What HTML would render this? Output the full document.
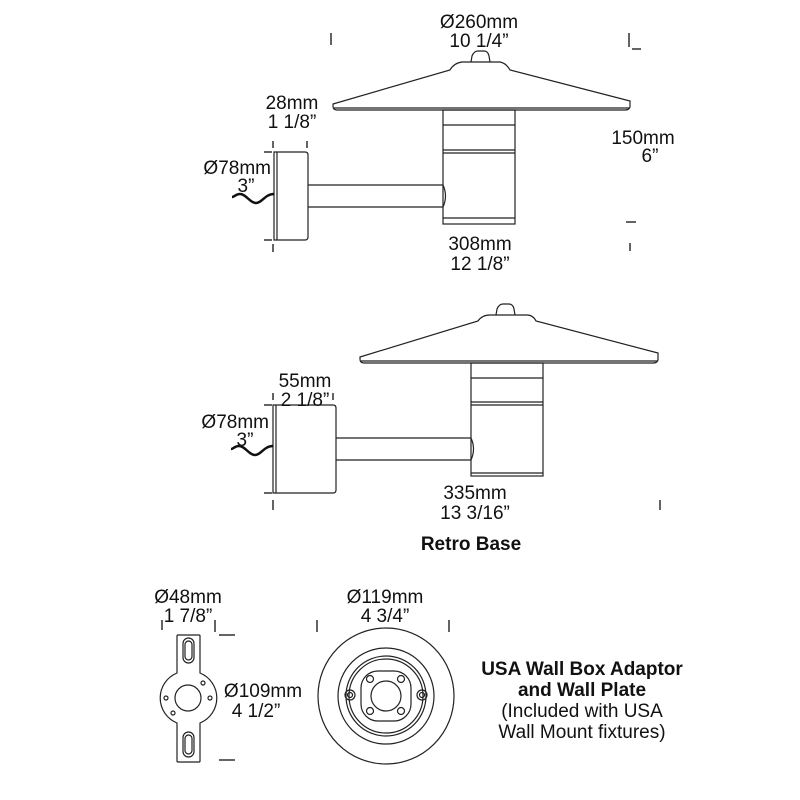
<!DOCTYPE html>
<html><head><meta charset="utf-8"><style>
html,body{margin:0;padding:0;background:#fff;}
svg{display:block}
text{font-family:"Liberation Sans",sans-serif;font-size:19px;fill:#111;text-anchor:middle}
.b{font-weight:bold}
.l{fill:none;stroke:#222;stroke-width:1.2}
.t{fill:none;stroke:#111;stroke-width:1.3}
</style></head><body>
<svg width="800" height="800" viewBox="0 0 800 800">
<!-- Fixture 1 -->
<path class="l" d="M333,104 L450,70 Q454,63 462,62 L500,62 Q506,63 510,70 L630,101 L630,107 Q629,110 625,110 L337,110 Q333,110 333,106 Z"/>
<line class="l" x1="334" y1="108" x2="629" y2="108"/>
<path class="l" d="M471,62 L472,56 Q474,51 478,51 L484,51 Q488,51 489,56 L490,62"/>
<rect class="l" x="443" y="110" width="72" height="114"/>
<line class="l" x1="443" y1="125" x2="515" y2="125"/>
<line class="l" x1="443" y1="150" x2="515" y2="150"/>
<line class="l" x1="443" y1="153" x2="515" y2="153"/>
<line class="l" x1="443" y1="218" x2="515" y2="218"/>
<path class="l" d="M274,152 L305,152 Q308,152 308,155 L308,237 Q308,240 305,240 L274,240 Z"/>
<line class="l" x1="277" y1="152" x2="277" y2="240"/>
<path class="l" d="M308,185 L443,185 Q448,196 443,207 L308,207"/>
<path d="M274,194 C265,194 262,203 256,203 C250,203 246,194 240,194 C236,194 234,197 232,197" fill="none" stroke="#111" stroke-width="2.5"/>
<text x="479" y="28">Ø260mm</text><text x="479" y="47">10 1/4”</text>
<line class="t" x1="331" y1="33" x2="331" y2="45"/>
<line class="t" x1="629" y1="33" x2="629" y2="47"/><line class="t" x1="632" y1="49" x2="641" y2="49"/>
<text x="292" y="109">28mm</text><text x="292" y="128">1 1/8”</text>
<line class="t" x1="273" y1="141" x2="273" y2="148"/><line class="t" x1="307" y1="141" x2="307" y2="148"/>
<text x="271" y="174" style="text-anchor:end">Ø78mm</text><text x="246" y="192">3”</text>
<line class="t" x1="264" y1="152" x2="272" y2="152"/><line class="t" x1="264" y1="240" x2="272" y2="240"/>
<line class="t" x1="273" y1="244" x2="273" y2="252"/>
<text x="643" y="144">150mm</text><text x="650" y="162">6”</text>
<line class="t" x1="626" y1="222" x2="636" y2="222"/><line class="t" x1="630" y1="243" x2="630" y2="251"/>
<text x="480" y="250">308mm</text><text x="480" y="270">12 1/8”</text>

<!-- Fixture 2 -->
<path class="l" d="M360,357 L478,321 Q482,315 490,315 L527,315 Q533,315 536,321 L658,353 L658,360 Q657,363 653,363 L364,363 Q360,363 360,359 Z"/>
<line class="l" x1="361" y1="361" x2="657" y2="361"/>
<path class="l" d="M496,315 L497,309 Q499,304 503,304 L509,304 Q513,304 514,309 L515,315"/>
<rect class="l" x="471" y="363" width="72" height="113"/>
<line class="l" x1="471" y1="378" x2="543" y2="378"/>
<line class="l" x1="471" y1="402" x2="543" y2="402"/>
<line class="l" x1="471" y1="405" x2="543" y2="405"/>
<line class="l" x1="471" y1="473" x2="543" y2="473"/>
<path class="l" d="M273,405 L333,405 Q336,405 336,408 L336,490 Q336,493 333,493 L273,493 Z"/>
<line class="l" x1="276" y1="405" x2="276" y2="493"/>
<path class="l" d="M336,438 L471,438 Q476,449 471,460 L336,460"/>
<path d="M273,446 C264,446 261,455 255,455 C249,455 245,446 239,446 C235,446 233,449 231,449" fill="none" stroke="#111" stroke-width="2.5"/>
<text x="305" y="387">55mm</text><text x="305" y="406">2 1/8”</text>
<line class="t" x1="273" y1="393" x2="273" y2="400"/><line class="t" x1="333" y1="393" x2="333" y2="400"/>
<text x="269" y="428" style="text-anchor:end">Ø78mm</text><text x="245" y="446">3”</text>
<line class="t" x1="264" y1="405" x2="272" y2="405"/><line class="t" x1="264" y1="493" x2="272" y2="493"/>
<line class="t" x1="273" y1="500" x2="273" y2="510"/>
<line class="t" x1="660" y1="500" x2="660" y2="510"/>
<text x="475" y="499">335mm</text><text x="475" y="519">13 3/16”</text>
<text x="471" y="550" class="b">Retro Base</text>

<!-- Wall plate -->
<path class="l" d="M178,635 L199,635 Q200,635 200,636 L200,673 A27,27 0 0 1 200,723 L200,761 Q200,762 199,762 L178,762 Q177,762 177,761 L177,723 A27,27 0 0 1 177,673 L177,636 Q177,635 178,635 Z"/>
<circle class="l" cx="188" cy="698" r="13"/>
<rect class="l" x="183" y="638" width="11" height="25" rx="5.5"/>
<rect class="l" x="185" y="641" width="7" height="19" rx="3.5"/>
<rect class="l" x="183" y="732" width="11" height="25" rx="5.5"/>
<rect class="l" x="185" y="735" width="7" height="19" rx="3.5"/>
<circle class="l" cx="166" cy="698" r="2"/><circle class="l" cx="210" cy="698" r="2"/>
<circle class="l" cx="203" cy="683" r="2"/><circle class="l" cx="173" cy="713" r="2"/>
<text x="188" y="603">Ø48mm</text><text x="188" y="622">1 7/8”</text>
<line class="t" x1="162" y1="620" x2="162" y2="630"/><line class="t" x1="215" y1="620" x2="215" y2="632"/>
<line class="t" x1="219" y1="635" x2="235" y2="635"/><line class="t" x1="219" y1="760" x2="235" y2="760"/>
<text x="263" y="697">Ø109mm</text><text x="256" y="717">4 1/2”</text>

<!-- Round plate -->
<circle class="l" cx="386" cy="696" r="68"/>
<circle class="l" cx="386" cy="696" r="48"/>
<circle class="l" cx="386" cy="696" r="40"/>
<circle class="l" cx="386" cy="696" r="37"/>
<rect class="l" x="361" y="671" width="50" height="50" rx="17"/>
<circle class="l" cx="386" cy="696" r="15"/>
<circle class="l" cx="350" cy="695" r="5"/><circle class="l" cx="350" cy="695" r="2.5"/>
<circle class="l" cx="422" cy="695" r="5"/><circle class="l" cx="422" cy="695" r="2.5"/>
<circle class="l" cx="370" cy="679" r="3.5"/><circle class="l" cx="401" cy="679" r="3.5"/>
<circle class="l" cx="370" cy="711" r="3.5"/><circle class="l" cx="401" cy="711" r="3.5"/>
<text x="385" y="603">Ø119mm</text><text x="385" y="622">4 3/4”</text>
<line class="t" x1="317" y1="620" x2="317" y2="632"/><line class="t" x1="449" y1="620" x2="449" y2="632"/>

<text x="582" y="675" class="b">USA Wall Box Adaptor</text>
<text x="582" y="696" class="b">and Wall Plate</text>
<text x="582" y="717">(Included with USA</text>
<text x="582" y="738">Wall Mount fixtures)</text>
</svg>
</body></html>
